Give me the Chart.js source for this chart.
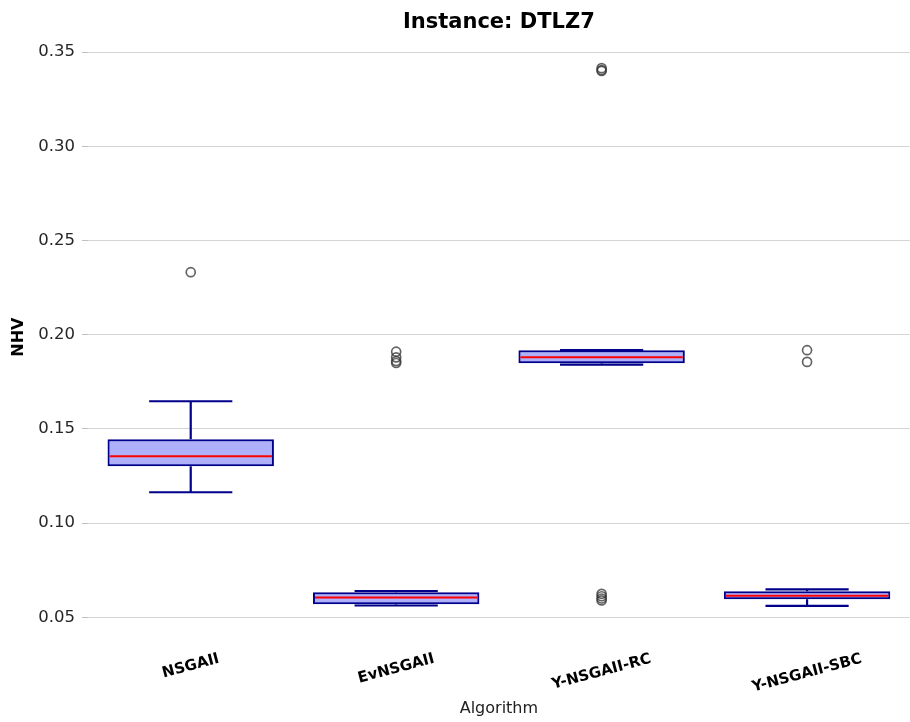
<!DOCTYPE html>
<html><head><meta charset="utf-8">
<script src="https://cdn.jsdelivr.net/npm/chart.js@4.4.1/dist/chart.umd.min.js"></script>
<style>
html,body{margin:0;padding:0;background:#fff;overflow:hidden;width:910px;height:722px}
canvas{position:absolute;left:0;top:0}
</style></head>
<body><canvas id="c" width="916" height="722"></canvas>
<script>
const categories = ['NSGAII', 'EvNSGAII', 'Y-NSGAII-RC', 'Y-NSGAII-SBC'];
const whiskerLow  = [0.1164, 0.0563, 0.1841, 0.0561];
const q1          = [0.1302, 0.0569, 0.1849, 0.0596];
const median      = [0.1355, 0.0606, 0.1881, 0.0615];
const q3          = [0.1445, 0.0633, 0.1918, 0.0638];
const whiskerHigh = [0.1647, 0.0640, 0.1918, 0.0649];
const outlierCat  = ['NSGAII', 'EvNSGAII', 'EvNSGAII', 'EvNSGAII', 'EvNSGAII',
                     'Y-NSGAII-RC', 'Y-NSGAII-RC', 'Y-NSGAII-RC',
                     'Y-NSGAII-RC', 'Y-NSGAII-RC', 'Y-NSGAII-RC', 'Y-NSGAII-RC',
                     'Y-NSGAII-SBC', 'Y-NSGAII-SBC'];
const outlierVal  = [0.2332, 0.1910, 0.1880, 0.1860, 0.1850,
                     0.3415, 0.3405, 0.3400,
                     0.0625, 0.0612, 0.0600, 0.0590,
                     0.1918, 0.1856];
const yTicks = [0.05, 0.10, 0.15, 0.20, 0.25, 0.30, 0.35];

const FONT = '"DejaVu Sans", "Liberation Sans", sans-serif';

const boxExtras = {
  id: 'boxExtras',
  afterDatasetsDraw(chart) {
    const ctx = chart.ctx, ys = chart.scales.y, xs = chart.scales.x;
    const meta = chart.getDatasetMeta(0);
    ctx.save();
    categories.forEach((c, i) => {
      const bar = meta.data[i];
      const cx = bar.x, half = bar.width / 2, capHalf = half / 2;
      const yH = ys.getPixelForValue(whiskerHigh[i]);
      const yL = ys.getPixelForValue(whiskerLow[i]);
      const y3 = ys.getPixelForValue(q3[i]);
      const y1 = ys.getPixelForValue(q1[i]);
      const ym = ys.getPixelForValue(median[i]);
      ctx.strokeStyle = '#00008b';
      ctx.lineWidth = 2.2;
      ctx.beginPath();
      ctx.moveTo(cx, y3); ctx.lineTo(cx, yH);
      ctx.moveTo(cx, y1); ctx.lineTo(cx, yL);
      ctx.moveTo(cx - capHalf, yH); ctx.lineTo(cx + capHalf, yH);
      ctx.moveTo(cx - capHalf, yL); ctx.lineTo(cx + capHalf, yL);
      ctx.stroke();
      ctx.strokeStyle = '#ff0000';
      ctx.lineWidth = 2;
      ctx.beginPath();
      ctx.moveTo(cx - half + 2, ym); ctx.lineTo(cx + half - 2, ym);
      ctx.stroke();
    });
    // rotated category labels (centered, like matplotlib rotation=15)
    const fs = 15;
    ctx.font = 'bold ' + fs + 'px ' + FONT;
    ctx.fillStyle = '#000';
    ctx.textAlign = 'center';
    ctx.textBaseline = 'middle';
    const ang = 15 * Math.PI / 180;
    categories.forEach((c, i) => {
      const px = xs.getPixelForValue(i);
      const w = ctx.measureText(c).width;
      const h = fs * 1.05;
      const H = w * Math.sin(ang) + h * Math.cos(ang);
      const cy = chart.chartArea.bottom + 18 + H / 2;
      ctx.save();
      ctx.translate(px, cy);
      ctx.rotate(-ang);
      ctx.fillText(c, 0, 0);
      ctx.restore();
    });
    ctx.restore();
  }
};

new Chart(document.getElementById('c'), {
  type: 'bar',
  data: {
    labels: categories,
    datasets: [
      {
        type: 'bar',
        data: categories.map((c, i) => [q1[i], q3[i]]),
        backgroundColor: 'rgba(30,40,240,0.36)',
        borderColor: '#00008b',
        borderWidth: 2,
        borderSkipped: false,
        barPercentage: 0.81,
        categoryPercentage: 1.0,
        order: 2
      },
      {
        type: 'line',
        showLine: false,
        data: outlierCat.map((c, i) => ({ x: c, y: outlierVal[i] })),
        pointStyle: 'circle',
        pointRadius: 4.5,
        pointBorderWidth: 1.7,
        pointBackgroundColor: 'rgba(0,0,0,0)',
        pointBorderColor: 'rgba(60,60,60,0.8)',
        order: 1
      }
    ]
  },
  options: {
    responsive: false,
    animation: false,
    events: [],
    layout: { padding: 0 },
    plugins: {
      legend: { display: false },
      tooltip: { enabled: false },
      title: {
        display: true,
        fullSize: false,
        text: 'Instance: DTLZ7',
        color: '#000',
        font: { family: FONT, size: 21, weight: 'bold' },
        padding: { top: 10, bottom: 6 }
      }
    },
    scales: {
      x: {
        type: 'category',
        offset: true,
        grid: { display: false, drawTicks: false },
        border: { display: false },
        ticks: { display: false },
        title: {
          display: true,
          text: 'Algorithm',
          color: '#222',
          font: { family: FONT, size: 16 },
          padding: { top: 0, bottom: 4 }
        },
        afterFit: s => { s.height = 89; }
      },
      y: {
        type: 'linear',
        position: 'left',
        min: 0.0417,
        max: 0.3558,
        afterBuildTicks: s => { s.ticks = yTicks.map(v => ({ value: v })); },
        ticks: {
          color: '#262626',
          font: { family: FONT, size: 16.5 },
          padding: 7,
          callback: v => Number(v).toFixed(2)
        },
        grid: {
          color: 'rgba(0,0,0,0.17)',
          lineWidth: 1,
          drawTicks: true,
          tickLength: 6,
          tickColor: 'rgba(0,0,0,0.25)'
        },
        border: { display: false },
        title: {
          display: true,
          text: 'NHV',
          color: '#000',
          font: { family: FONT, size: 16, weight: 'bold' },
          padding: { top: 9, bottom: 0 }
        },
        afterFit: s => { s.width = 88; }
      }
    }
  },
  plugins: [boxExtras]
});
</script>
</body></html>
